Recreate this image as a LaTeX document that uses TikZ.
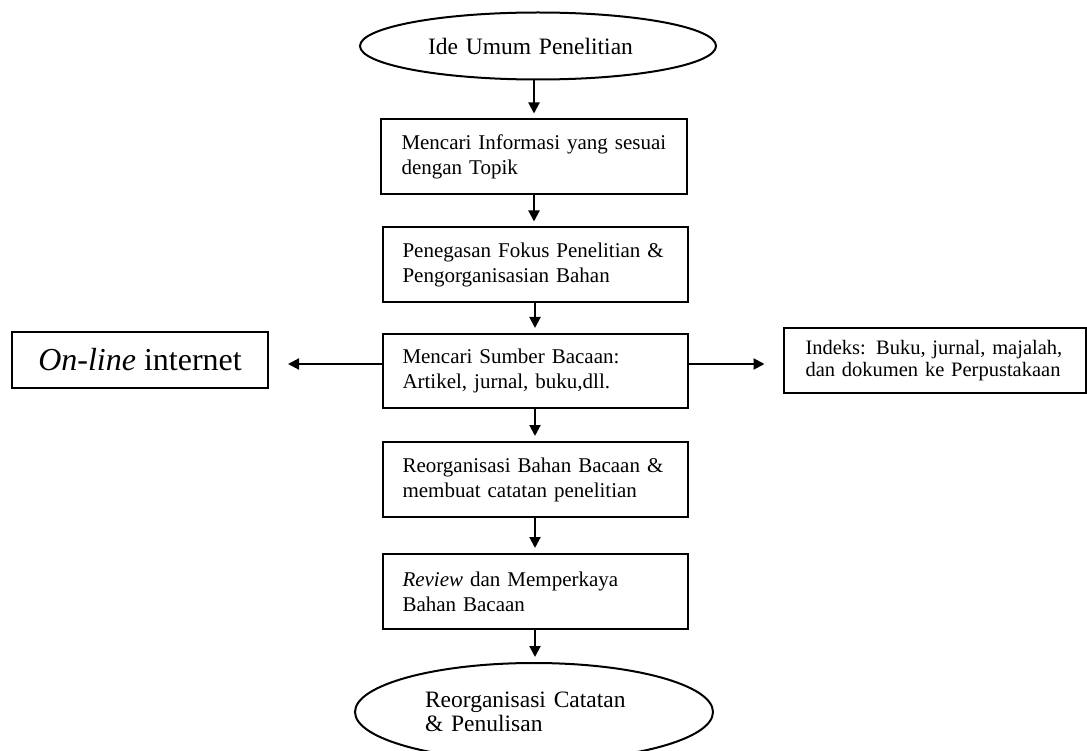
\documentclass[tikz,border=0pt]{standalone}
\usepackage{fontspec}
\setmainfont{Liberation Serif}
\usetikzlibrary{arrows.meta,shapes.geometric}
\tikzset{
  boxnode/.style={draw, line width=2pt, rectangle, minimum width=305pt, minimum height=75pt,
     text width=265pt, align=left, inner xsep=20pt, font=\fontsize{21}{25}\selectfont},
  ovalnode/.style={draw, line width=2pt, ellipse, inner sep=0pt},
  arr/.style={line width=2pt, -{Triangle[length=11pt,width=11pt]}, shorten >=5pt}
}
\begin{document}
\begin{tikzpicture}[x=1pt,y=-1pt]
\useasboundingbox (0,0) rectangle (1087,751);
\node[ovalnode, minimum width=356pt, minimum height=67pt, text width=220pt, align=left, font=\fontsize{23.5}{26}\selectfont] (top) at (538,46) {Ide Umum Penelitian};
\node[boxnode, minimum width=306pt] (b1) at (534,157) {Mencari Informasi yang sesuai\\dengan Topik};
\node[boxnode] (b2) at (535,265) {Penegasan Fokus Penelitian \&\\Pengorganisasian Bahan};
\node[boxnode, minimum height=74pt] (b3) at (535,371) {Mencari Sumber Bacaan:\\Artikel, jurnal, buku,dll.};
\node[boxnode] (b4) at (535,479.5) {Reorganisasi Bahan Bacaan \&\\membuat catatan penelitian};
\node[boxnode] (b5) at (535,591.5) {\textit{Review} dan Memperkaya\\Bahan Bacaan};
\node[ovalnode, minimum width=358pt, minimum height=98pt, text width=218pt, align=left, font=\fontsize{23.5}{24}\selectfont] (bot) at (534,712) {Reorganisasi Catatan\\\& Penulisan};
\node[draw, line width=2pt, rectangle, minimum width=256pt, minimum height=56pt, font=\fontsize{32}{34}\selectfont] (online) at (140,360) {\textit{On-line} internet};
\node[draw, line width=2pt, rectangle, minimum width=302pt, minimum height=65pt, text width=258pt, align=left, inner xsep=22pt, font=\fontsize{20.5}{22}\selectfont] (idx) at (934.5,360.5) {Indeks: Buku, jurnal, majalah,\\dan dokumen ke Perpustakaan};
\draw[arr] (top.south -| b1.north) -- (b1.north);
\draw[arr] (b1.south) -- (b1.south |- b2.north);
\draw[arr] (b2.south) -- (b3.north);
\draw[arr] (b3.south) -- (b4.north);
\draw[arr] (b4.south) -- (b5.north);
\draw[arr] (b5.south) -- (bot.north -| b5.south);
\draw[arr, shorten >=19pt] ([yshift=7pt]b3.west) -- ([yshift=7pt]b3.west -| online.east);
\draw[arr, shorten >=18pt] ([yshift=7pt]b3.east) -- ([yshift=7pt]b3.east -| idx.west);
\end{tikzpicture}
\end{document}
